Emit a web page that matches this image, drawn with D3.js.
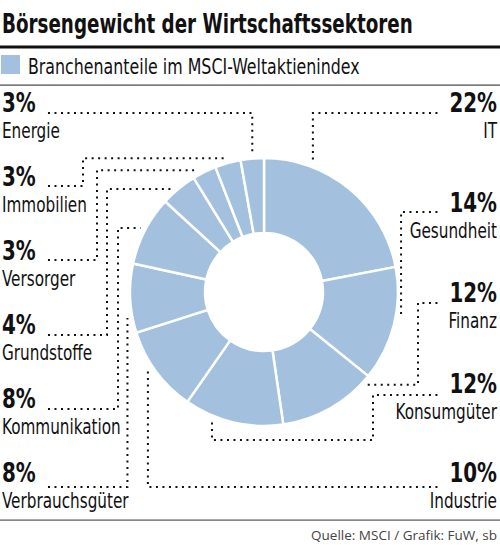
<!DOCTYPE html>
<html>
  <head>
    <meta charset="utf-8">
    <script src="https://cdn.jsdelivr.net/npm/d3@7"></script>
    <title>Börsengewicht der Wirtschaftssektoren</title>
    <style>
      body {
        margin: 0px;
        background: #fff;
      }
      text {
        font-family: "Liberation Sans Narrow", "DejaVu Sans Condensed", "Open Sans", sans-serif;
        font-stretch: condensed;
        fill: #111;
      }
      .title {
        font-size: 27px;
        font-weight: 800;
      }
      .legend-text, .name {
        font-size: 22px;
      }
      .pct {
        font-size: 26px;
        font-weight: 800;
      }
      .source {
        font-family: "Open Sans", sans-serif;
        font-stretch: normal;
        font-size: 13.5px;
        fill: #444;
      }
      .leader {
        fill: none;
        stroke: #111;
        stroke-width: 2;
        stroke-dasharray: 2 4.5;
      }
      .slice {
        fill: #a3c1de;
        stroke: #fff;
        stroke-width: 2.5;
      }
    </style>
  </head>
  <body>
    <svg width="500" height="545"></svg>
    <script>
      // data
      var sectors = ['IT', 'Gesundheit', 'Finanz', 'Konsumgüter', 'Industrie',
        'Verbrauchsgüter', 'Kommunikation', 'Grundstoffe', 'Versorger', 'Immobilien', 'Energie'];
      var shares = [22.0, 13.8, 11.9, 12.0, 10.4, 8.3, 8.4, 4.4, 2.9, 3.1, 2.8];
      var titleText = 'Börsengewicht der Wirtschaftssektoren';
      var legendText = 'Branchenanteile im MSCI-Weltaktienindex';
      var sourceText = 'Quelle: MSCI / Grafik: FuW, sb';

      var svg = d3.select('svg');
      var width = +svg.attr('width');
      var color = '#a3c1de';

      // label placement: side, baseline of the percentage, y of leader, elbows, position within slice
      var layout = {
        'IT':              { side: 'R', y: 112, ly: 113, via: [],         t: 0.26 },
        'Gesundheit':      { side: 'R', y: 212, ly: 212, via: [],         t: 0.41 },
        'Finanz':          { side: 'R', y: 302, ly: 303, via: [418],      t: 0.07 },
        'Konsumgüter':     { side: 'R', y: 393, ly: 395, via: [373, 440], t: 0.70 },
        'Industrie':       { side: 'R', y: 482, ly: 487, via: [],         t: 0.58 },
        'Verbrauchsgüter': { side: 'L', y: 482, ly: 487, via: [],         t: 0.23 },
        'Kommunikation':   { side: 'L', y: 408, ly: 409, via: [118],      t: 0.50 },
        'Grundstoffe':     { side: 'L', y: 334, ly: 335, via: [107],      t: 0.34 },
        'Versorger':       { side: 'L', y: 260, ly: 260, via: [97],       t: 0.28 },
        'Immobilien':      { side: 'L', y: 186, ly: 186, via: [83],       t: 0.50 },
        'Energie':         { side: 'L', y: 112, ly: 113, via: [],         t: 0.52 }
      };

      var cx = 264, cy = 292, outerR = 134, innerR = 59;

      // no condensed face installed, so squeeze the text horizontally
      // k: scale factor, or len: wanted width in px
      function narrowText(parent, cls, x, y, str, anchor, k, len) {
        var t = parent.append('text').attr('class', cls)
            .attr('text-anchor', anchor || 'start')
            .text(str);
        var w = t.node().getComputedTextLength();
        var s = len ? len / w : k;
        t.attr('transform', 'translate(' + x + ',' + y + ') scale(' + s + ',1)');
        return t;
      }

      // header
      narrowText(svg, 'title', 2, 33, titleText, 'start', 1, 411);
      svg.append('rect').attr('x', 0).attr('y', 45.5).attr('width', width).attr('height', 3)
          .attr('fill', '#111');
      svg.append('rect').attr('x', 1).attr('y', 55).attr('width', 19).attr('height', 19)
          .attr('fill', color);
      narrowText(svg, 'legend-text', 28, 74, legendText, 'start', 1, 332);
      svg.append('rect').attr('x', 0).attr('y', 84.5).attr('width', width).attr('height', 1.2)
          .attr('fill', '#444');

      // donut
      var data = sectors.map(function (s, i) { return { name: s, value: shares[i] }; });
      var pie = d3.pie().sort(null).value(function (d) { return d.value; });
      var arcs = pie(data);
      var arc = d3.arc().innerRadius(innerR).outerRadius(outerR);

      var chart = svg.append('g').attr('transform', 'translate(' + cx + ',' + cy + ')');
      chart.selectAll('.slice').data(arcs)
        .enter().append('path')
          .attr('class', 'slice')
          .attr('d', arc);

      // labels
      var labels = svg.append('g');
      arcs.forEach(function (a) {
        var L = layout[a.data.name];
        var right = L.side === 'R';
        var x = right ? 497 : 2;
        var anchor = right ? 'end' : 'start';
        var pct = narrowText(labels, 'pct', x, L.y, Math.round(a.data.value) + '%', anchor, 0.85);
        narrowText(labels, 'name', x, L.y + 26, a.data.name, anchor, 0.77);

        var bb = pct.node().getBoundingClientRect();
        var sx = right ? bb.left - 12 : bb.right + 12;

        // end point just outside the ring
        var ang = a.startAngle + L.t * (a.endAngle - a.startAngle);
        var tx = cx + Math.sin(ang) * (outerR + 5);
        var ty = cy - Math.cos(ang) * (outerR + 5);

        var p = d3.path();
        p.moveTo(sx, L.ly);
        var px = sx, py = L.ly, horiz = true;
        L.via.forEach(function (v) {
          if (horiz) { px = v; } else { py = v; }
          p.lineTo(px, py);
          horiz = !horiz;
        });
        if (horiz) {
          p.lineTo(tx, py); p.lineTo(tx, ty);
        } else {
          p.lineTo(px, ty); p.lineTo(tx, ty);
        }
        labels.append('path').attr('class', 'leader').attr('d', p.toString());
      });

      // footer
      svg.append('rect').attr('x', 0).attr('y', 519.5).attr('width', width).attr('height', 1.2)
          .attr('fill', '#555');
      svg.append('text').attr('class', 'source')
          .attr('x', 497).attr('y', 540)
          .attr('text-anchor', 'end')
          .text(sourceText);
    </script>
  </body>
</html>
